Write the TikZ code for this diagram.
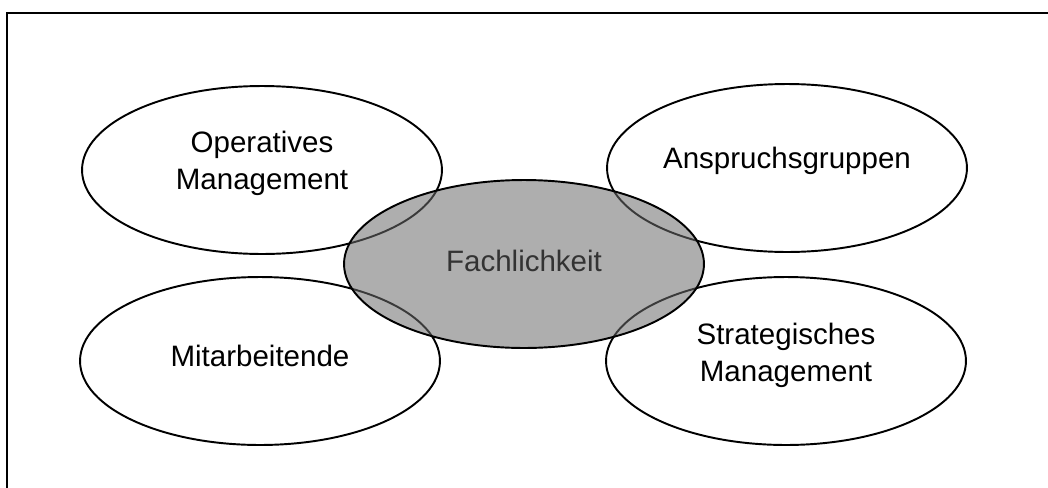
\documentclass[tikz,border=0pt]{standalone}
\usepackage{fontspec}
\setmainfont{Liberation Sans}
\usetikzlibrary{shapes.geometric}

\tikzset{
  bubble/.style = {draw, ellipse, line width=1.1pt, inner sep=0pt,
                   minimum width=7.2cm, minimum height=3.36cm},
  core/.style   = {bubble, fill=black!58, fill opacity=0.55},
  lbl/.style    = {align=center, inner sep=0pt,
                   font=\fontsize{16.8}{21}\selectfont}
}

\begin{document}
\begin{tikzpicture}
[x = 0.02cm,
y  = -0.02cm]
\useasboundingbox (0,0) rectangle (1048,487);

% frame, cut at the right and bottom
\draw[line width=1.1pt] (7,500) -- (7,13) -- (1060,13);

\node[bubble] (opm)    at (262,170) {};
\node[bubble] (anspr)  at (787,168) {};
\node[bubble] (mitarb) at (260,361) {};
\node[bubble] (stratm) at (786,361) {};
\node[core]   (fach)   at (524,264) {};

\node[lbl] (opm-t)    at ([yshift=4pt]opm)    {Operatives\\Management};
\node[lbl] (anspr-t)  at ([yshift=4pt]anspr)  {Anspruchsgruppen};
\node[lbl] (mitarb-t) at ([yshift=3pt]mitarb) {Mitarbeitende};
\node[lbl] (stratm-t) at ([yshift=3pt]stratm) {Strategisches\\Management};
\node[lbl, text=black!80] (fach-t) at ([yshift=2pt]fach) {Fachlichkeit};
\end{tikzpicture}
\end{document}
